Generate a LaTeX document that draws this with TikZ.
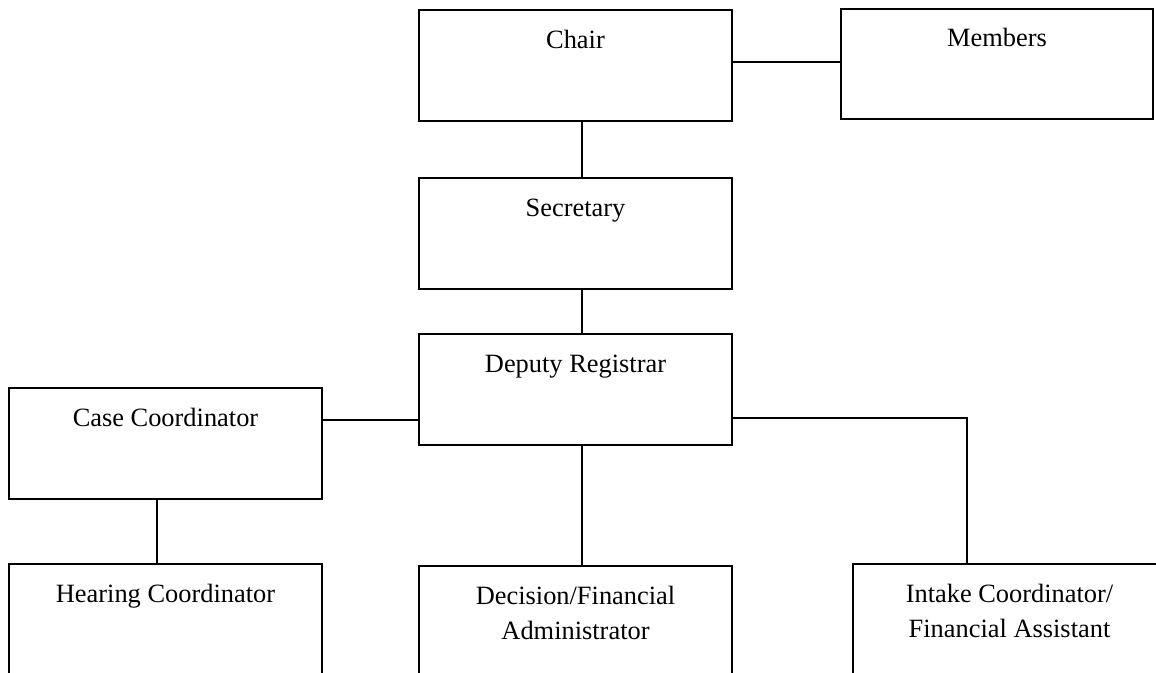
\documentclass[tikz,border=0pt]{standalone}
\usepackage{fontspec}
\setmainfont{Liberation Serif}
\begin{document}
\begin{tikzpicture}[x=0.5pt,y=-0.5pt,
  box/.style={draw=black, line width=1pt, minimum width=156.5pt, minimum height=55.5pt, inner sep=0pt, outer sep=0pt},
  lbl/.style={anchor=base, align=center, inner sep=0pt, font=\fontsize{13.2}{17.5}\selectfont},
  conn/.style={draw=black, line width=1pt}]
\useasboundingbox (0,0) rectangle (1156,673);
\clip (0,0) rectangle (1156,673);
\node[box] (chair) at (575.5,65.5) {};
\node[box, minimum width=156pt, minimum height=55pt] (members) at (997,64) {};
\node[box] (secretary) at (575.5,233.5) {};
\node[box] (deputy) at (575.5,389.5) {};
\node[box] (case) at (165.5,443.5) {};
\node[box] (hearing) at (165.5,619.5) {};
\node[box] (decision) at (575.5,621.5) {};
\node[box] (intake) at (1009.5,619.5) {};
\node[lbl] (chairt) at ([yshift=-19.25pt]chair.north) {Chair};
\node[lbl] (memberst) at ([yshift=-18.75pt]members.north) {Members};
\node[lbl] (secretaryt) at ([yshift=-19.25pt]secretary.north) {Secretary};
\node[lbl] (deputyt) at ([yshift=-19.25pt]deputy.north) {Deputy Registrar};
\node[lbl] (caset) at ([yshift=-19.25pt]case.north) {Case Coordinator};
\node[lbl] (hearingt) at ([yshift=-19.25pt]hearing.north) {Hearing Coordinator};
\node[lbl] (decisiont) at ([yshift=-36.75pt]decision.north) {Decision/Financial\\Administrator};
\node[lbl] (intaket) at ([yshift=-36.75pt]intake.north) {Intake Coordinator/\\Financial Assistant};
\draw[conn] ([yshift=1.75pt]chair.east) -- ([yshift=1pt]members.west);
\draw[conn] ([xshift=3.25pt]chair.south) -- ([xshift=3.25pt]secretary.north);
\draw[conn] ([xshift=3.25pt]secretary.south) -- ([xshift=3.25pt]deputy.north);
\draw[conn] ([yshift=11.75pt]case.east) coordinate (cc) -- (cc -| deputy.west);
\draw[conn] ([xshift=-4.25pt]case.south) -- ([xshift=-4.25pt]hearing.north);
\draw[conn] ([xshift=3.25pt]deputy.south) -- ([xshift=3.25pt]decision.north);
\draw[conn] ([yshift=-14.25pt]deputy.east) -| ([xshift=-21.25pt]intake.north);
\end{tikzpicture}
\end{document}
